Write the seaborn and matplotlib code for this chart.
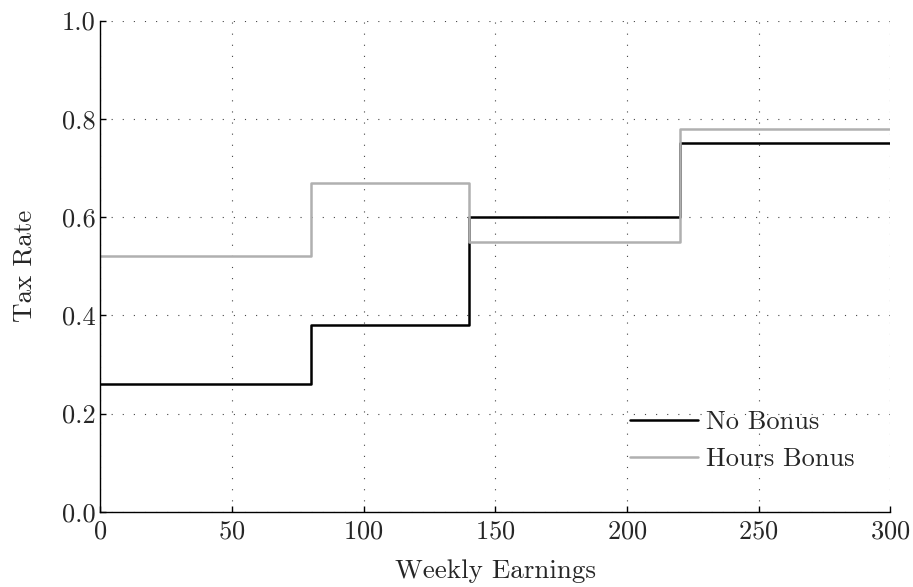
import numpy as np
import pandas as pd
import matplotlib
matplotlib.use('Agg')
import matplotlib.pyplot as plt
import seaborn as sns

# step boundaries (weekly earnings) and tax rates per band
earnings = [0, 80, 140, 220, 300]
no_bonus = [0.26, 0.38, 0.60, 0.75, 0.75]
hours_bonus = [0.52, 0.67, 0.55, 0.78, 0.78]

df = pd.DataFrame({
    'Weekly Earnings': earnings * 2,
    'Tax Rate': no_bonus + hours_bonus,
    'series': ['No Bonus'] * len(earnings) + ['Hours Bonus'] * len(earnings),
})

sns.set_style('white')
plt.rcParams['font.family'] = ['cmr10', 'DejaVu Serif']
plt.rcParams['mathtext.fontset'] = 'cm'
plt.rcParams['axes.formatter.use_mathtext'] = True
plt.rcParams['axes.unicode_minus'] = False

fig, ax = plt.subplots(figsize=(9.13, 5.87), dpi=100)
sns.lineplot(data=df, x='Weekly Earnings', y='Tax Rate', hue='series',
             palette={'No Bonus': 'black', 'Hours Bonus': '#b0b0b0'},
             drawstyle='steps-post', linewidth=1.8, ax=ax)

ax.set_xlim(0, 300)
ax.set_ylim(0, 1.0)
ax.set_xticks([0, 50, 100, 150, 200, 250, 300])
ax.set_yticks([0.0, 0.2, 0.4, 0.6, 0.8, 1.0])
ax.set_yticklabels(['0.0', '0.2', '0.4', '0.6', '0.8', '1.0'])
ax.grid(True, linestyle=(0, (1, 9)), color='#444444', linewidth=0.8)
for s in ['top', 'right']:
    ax.spines[s].set_visible(False)
for s in ['left', 'bottom']:
    ax.spines[s].set_color('black')
    ax.spines[s].set_linewidth(1.0)
ax.tick_params(direction='in', length=4, width=1, labelsize=19, color='black',
               left=True, bottom=True)
ax.tick_params(axis='x', pad=6)
ax.set_xlabel('Weekly Earnings', fontsize=19.5, labelpad=11)
ax.set_ylabel('Tax Rate', fontsize=19.5, labelpad=18)

leg = ax.legend(loc='lower right', frameon=False, fontsize=19,
                bbox_to_anchor=(0.985, 0.035), handlelength=2.6,
                handletextpad=0.3, labelspacing=0.5)
leg.set_title(None)

fig.subplots_adjust(left=0.11, right=0.975, top=0.965, bottom=0.128)
fig.savefig('out.png', dpi=100)
